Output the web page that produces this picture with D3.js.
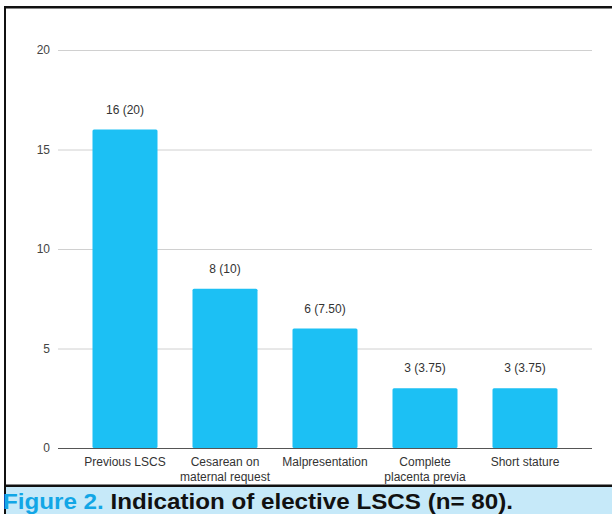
<!DOCTYPE html>
<html>
<head>
<meta charset="utf-8">
<script src="https://cdn.jsdelivr.net/npm/d3@7"></script>
<style>
  body { margin: 0; background: #fff; }
  svg { display: block; }
</style>
</head>
<body>
<div id="chart"></div>
<script>
// data
const categories = ["Previous LSCS", "Cesarean on maternal request", "Malpresentation", "Complete placenta previa", "Short stature"];
const counts = [16, 8, 6, 3, 3];
const percents = ["20", "10", "7.50", "3.75", "3.75"];
const yTicks = [0, 5, 10, 15, 20];
// wrapped label lines
const labelLines = [["Previous LSCS"], ["Cesarean on", "maternal request"], ["Malpresentation"], ["Complete", "placenta previa"], ["Short stature"]];

const width = 612, height = 514;
const labelFont = "'Liberation Sans', Arial, sans-serif";

const svg = d3.select("#chart")
    .append("svg")
    .attr("width", width)
    .attr("height", height);

svg.append("rect").attr("x", 0).attr("y", 0).attr("width", width).attr("height", height).attr("fill", "#fff");

// caption box
svg.append("rect")
    .attr("x", 5).attr("y", 487)
    .attr("width", width - 5).attr("height", height - 487)
    .attr("fill", "#c6e9f9");

// Scales
const x = d3.scaleBand()
    .domain(categories)
    .range([75, 575])
    .paddingInner(0.35)
    .paddingOuter(0.175);

const y = d3.scaleLinear()
    .domain([0, 20])
    .range([448, 50]);

// gridlines
svg.append("g")
    .selectAll("line")
    .data(yTicks.filter(d => d > 0))
    .join("line")
    .attr("x1", 58).attr("x2", 592)
    .attr("y1", d => y(d) + 0.5).attr("y2", d => y(d) + 0.5)
    .attr("stroke", "#d0d0d0")
    .attr("stroke-width", 1);

// y labels
svg.append("g")
    .selectAll("text")
    .data(yTicks)
    .join("text")
    .attr("x", 50)
    .attr("y", d => y(d) + 4)
    .attr("text-anchor", "end")
    .style("font-family", labelFont)
    .style("font-size", "12px")
    .attr("fill", "#444")
    .text(d => d);

// bars
svg.append("g")
    .selectAll("rect")
    .data(counts)
    .join("rect")
    .attr("x", (d, i) => x(categories[i]))
    .attr("y", d => y(d))
    .attr("width", x.bandwidth())
    .attr("height", d => y(0) - y(d))
    .attr("rx", 1.5)
    .attr("fill", "#1cc0f4");

// baseline
svg.append("line")
    .attr("x1", 58).attr("x2", 592)
    .attr("y1", y(0) + 0.5).attr("y2", y(0) + 0.5)
    .attr("stroke", "#555")
    .attr("stroke-width", 1);

// value labels
svg.append("g")
    .selectAll("text")
    .data(counts)
    .join("text")
    .attr("x", (d, i) => x(categories[i]) + x.bandwidth() / 2)
    .attr("y", d => y(d) - 16)
    .attr("text-anchor", "middle")
    .style("font-family", labelFont)
    .style("font-size", "12px")
    .attr("fill", "#333")
    .text((d, i) => `${d} (${percents[i]})`);

// category labels
const xl = svg.append("g")
    .selectAll("text")
    .data(categories)
    .join("text")
    .attr("x", d => x(d) + x.bandwidth() / 2)
    .attr("y", 466)
    .attr("text-anchor", "middle")
    .style("font-family", labelFont)
    .style("font-size", "12px")
    .attr("fill", "#333");

xl.selectAll("tspan")
    .data((d, i) => labelLines[i])
    .join("tspan")
    .attr("x", function () { return d3.select(this.parentNode).attr("x"); })
    .attr("dy", (d, i) => i === 0 ? 0 : 15)
    .text(d => d);

// borders
svg.append("rect").attr("x", 4).attr("y", 6).attr("width", width - 4).attr("height", 2.5).attr("fill", "#111");
svg.append("rect").attr("x", 4).attr("y", 6).attr("width", 2).attr("height", height - 6).attr("fill", "#111");
svg.append("rect").attr("x", 4).attr("y", 484.5).attr("width", width - 4).attr("height", 2.5).attr("fill", "#111");

// caption
const cap = svg.append("text")
    .attr("x", 3)
    .attr("y", 509)
    .attr("textLength", 510)
    .attr("lengthAdjust", "spacingAndGlyphs")
    .style("font-family", "'Liberation Sans', Arial, sans-serif")
    .style("font-size", "22px")
    .style("font-weight", "bold");
cap.append("tspan").attr("fill", "#12a6e6").text("Figure 2.");
cap.append("tspan").attr("fill", "#111").text(" Indication of elective LSCS (n= 80).");
</script>
</body>
</html>
